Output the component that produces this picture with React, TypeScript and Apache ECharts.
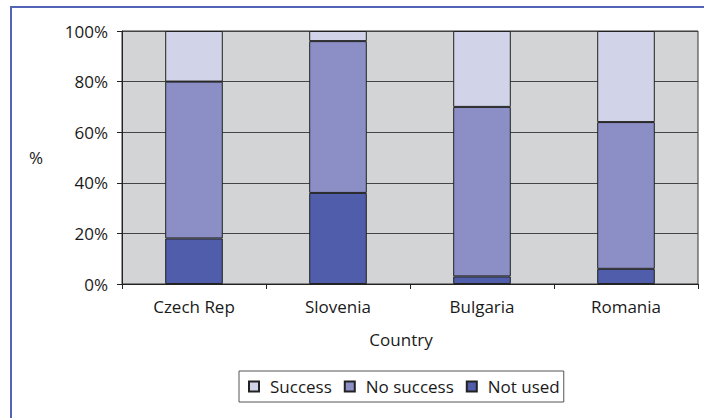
import React, { useEffect, useRef } from "react";
import * as echarts from "echarts";

const countries = ["Czech Rep", "Slovenia", "Bulgaria", "Romania"];
const notUsed = [18, 36, 3, 6];
const noSuccess = [62, 60, 67, 58];
const success = [20, 4, 30, 36];
const yTicks = { min: 0, max: 100, interval: 20 };

const FONT = "Open Sans";
const FS = 17;
const TXT = "#1a1a1a";

export default function App() {
  const ref = useRef<HTMLDivElement>(null);
  useEffect(() => {
    if (!ref.current) return;
    const chart = echarts.init(ref.current, undefined, { renderer: "svg" });
    const barStyle = (color: string) => ({
      color,
      borderColor: "#222",
      borderWidth: 1,
    });
    chart.setOption({
      animation: false,
      backgroundColor: "#ffffff",
      textStyle: { fontFamily: FONT },
      grid: {
        left: 122,
        top: 31,
        width: 576,
        height: 253,
        show: true,
        backgroundColor: "#D3D4D6",
        borderColor: "#333",
        borderWidth: 1,
      },
      legend: {
        data: ["Success", "No success", "Not used"],
        left: 239,
        top: 371,
        orient: "horizontal",
        icon: "rect",
        itemWidth: 10,
        itemHeight: 10,
        itemGap: 12,
        padding: [7, 4, 7, 9],
        borderColor: "#555",
        borderWidth: 1,
        textStyle: { fontFamily: FONT, fontSize: FS, color: TXT, padding: [0, 0, 0, 6] },
      },
      xAxis: {
        type: "category",
        data: countries,
        name: "Country",
        nameLocation: "middle",
        nameGap: 47,
        nameTextStyle: { fontFamily: FONT, fontSize: FS, color: TXT, padding: [0, 18, 0, 0] },
        axisLine: { show: true, lineStyle: { color: "#222", width: 1 } },
        axisTick: { show: true, length: 5, lineStyle: { color: "#222" } },
        axisLabel: { fontFamily: FONT, fontSize: FS, color: TXT, margin: 14 },
        splitLine: { show: false },
      },
      yAxis: {
        type: "value",
        min: yTicks.min,
        max: yTicks.max,
        interval: yTicks.interval,
        name: "%",
        nameLocation: "middle",
        nameRotate: 0,
        nameGap: 79,
        nameTextStyle: { fontFamily: FONT, fontSize: FS, color: TXT },
        axisLine: { show: true, lineStyle: { color: "#222", width: 1 } },
        axisTick: { show: true, length: 5, lineStyle: { color: "#222" } },
        axisLabel: { fontFamily: FONT, fontSize: FS, color: TXT, margin: 14, formatter: "{value}%" },
        splitLine: { show: true, lineStyle: { color: "#444", width: 1 } },
      },
      series: [
        { name: "Not used", type: "bar", stack: "s", barWidth: "40%", data: notUsed, itemStyle: barStyle("#4F5DAA") },
        { name: "No success", type: "bar", stack: "s", barWidth: "40%", data: noSuccess, itemStyle: barStyle("#8C8FC6") },
        { name: "Success", type: "bar", stack: "s", barWidth: "40%", data: success, itemStyle: barStyle("#D1D3E8") },
      ],
      graphic: [
        {
          type: "polyline",
          shape: { points: [[11, 420], [11, 7], [706, 7]] },
          style: { stroke: "#5363B6", lineWidth: 2, fill: null },
          silent: true,
        },
      ],
    });
    return () => chart.dispose();
  }, []);
  return (
    <div
      ref={ref}
      style={{ position: "fixed", left: 0, top: 0, width: 704, height: 418 }}
    />
  );
}
